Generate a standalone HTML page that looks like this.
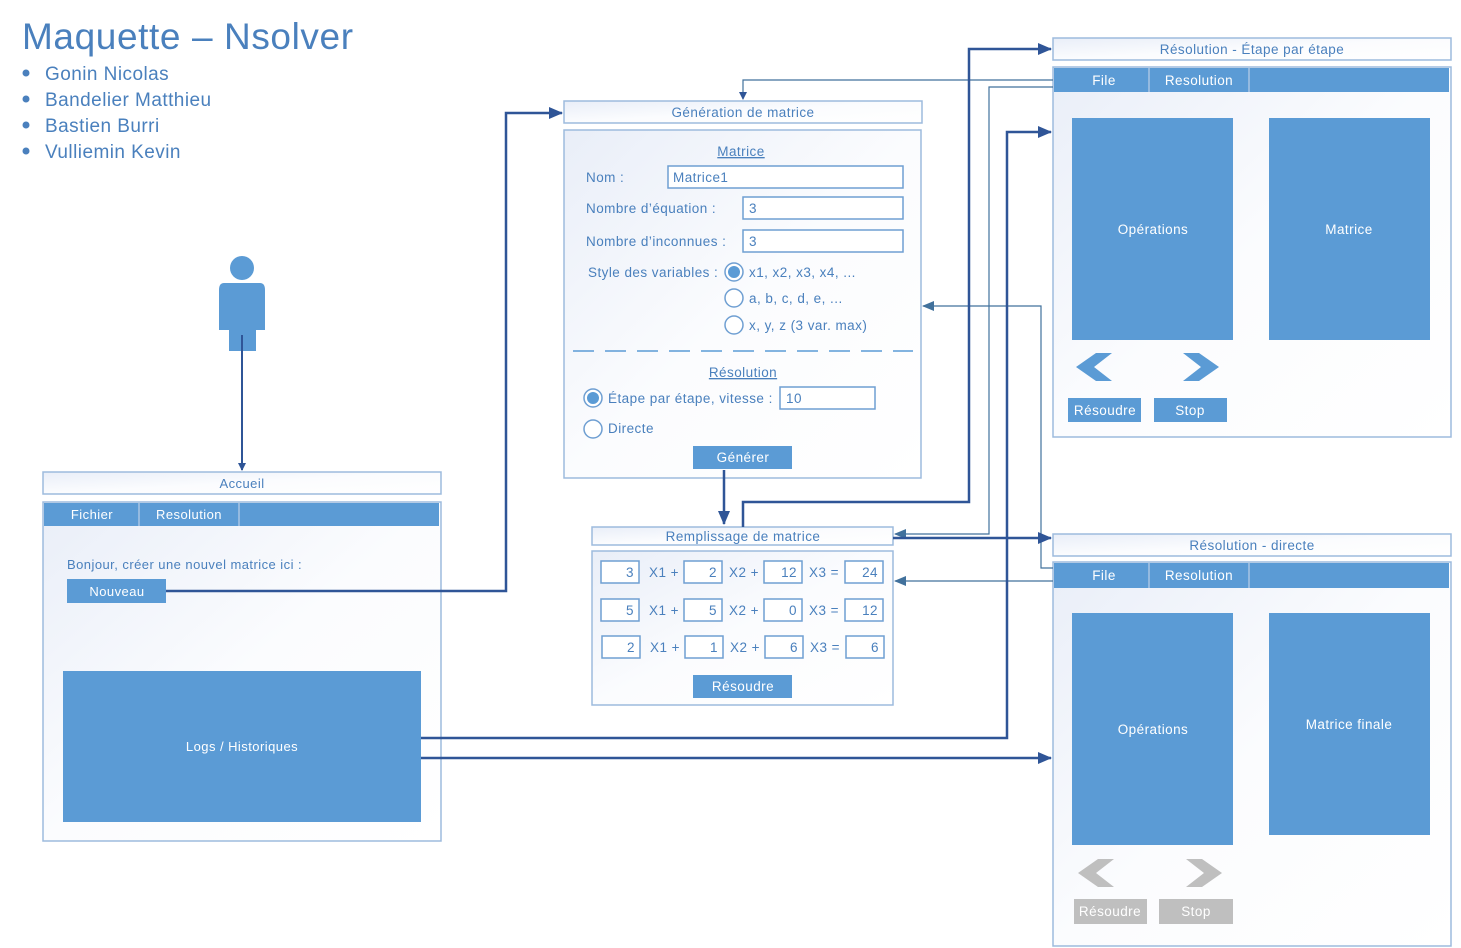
<!DOCTYPE html>
<html><head><meta charset="utf-8"><style>
body{margin:0;background:#fff}
svg{display:block;font-family:"Liberation Sans",sans-serif}
svg text{letter-spacing:0.45px}
</style></head><body>
<svg width="1461" height="948" viewBox="0 0 1461 948" xmlns="http://www.w3.org/2000/svg">
<defs>
<linearGradient id="g" x1="0" y1="0" x2="1" y2="1"><stop offset="0" stop-color="#e9eef8"/><stop offset="0.5" stop-color="#fbfcfe"/><stop offset="1" stop-color="#ffffff"/></linearGradient>
<marker id="a" markerWidth="8" markerHeight="8" refX="7" refY="4" orient="auto" markerUnits="userSpaceOnUse"><path d="M0,0 L8,4 L0,8 z" fill="#2f5597"/></marker>
<marker id="b" markerWidth="14" markerHeight="12" refX="13" refY="6" orient="auto" markerUnits="userSpaceOnUse"><path d="M0,0 L14,6 L0,12 z" fill="#2f5597"/></marker>
<marker id="t" markerWidth="12" markerHeight="10" refX="11" refY="5" orient="auto" markerUnits="userSpaceOnUse"><path d="M0,0 L12,5 L0,10 z" fill="#41719c"/></marker>
</defs>

<!-- title -->
<text x="22" y="49" font-size="37" fill="#4a80bd" style="letter-spacing:0.6px">Maquette – Nsolver</text>
<g fill="#4a80bd" font-size="19" style="letter-spacing:0.8px">
<circle cx="26" cy="73" r="3.5"/><text x="45" y="80">Gonin Nicolas</text>
<circle cx="26" cy="99" r="3.5"/><text x="45" y="106">Bandelier Matthieu</text>
<circle cx="26" cy="125" r="3.5"/><text x="45" y="132">Bastien Burri</text>
<circle cx="26" cy="151" r="3.5"/><text x="45" y="158">Vulliemin Kevin</text>
</g>

<!-- person -->
<g fill="#5b9bd5">
<circle cx="242" cy="268" r="12"/>
<path d="M224,283 H260 Q265,283 265,290 V330 H256 V351 H229 V330 H219 V290 Q219,283 224,283 z"/>
</g>

<!-- Accueil -->
<g stroke="#9dbbdd" stroke-width="1.5">
<rect x="43" y="472" width="398" height="22" fill="url(#g)"/>
<rect x="43" y="502" width="398" height="339" fill="url(#g)"/>
</g>
<rect x="44" y="503" width="395" height="23" fill="#5b9bd5"/>
<line x1="139" y1="503" x2="139" y2="526" stroke="#a9c4e4" stroke-width="1.5"/>
<line x1="239" y1="503" x2="239" y2="526" stroke="#a9c4e4" stroke-width="1.5"/>
<text x="242" y="488" font-size="13" fill="#4a80bd" text-anchor="middle">Accueil</text>
<g font-size="13" fill="#fff" text-anchor="middle"><text x="92" y="519">Fichier</text><text x="189" y="519">Resolution</text></g>
<text x="67" y="569" font-size="13" fill="#4a80bd">Bonjour, créer une nouvel matrice ici :</text>
<rect x="67" y="579" width="99" height="24" fill="#5b9bd5"/>
<text x="117" y="596" font-size="13" fill="#fff" text-anchor="middle">Nouveau</text>
<rect x="63" y="671" width="358" height="151" fill="#5b9bd5"/>
<text x="242" y="751" font-size="13" fill="#fff" text-anchor="middle">Logs / Historiques</text>

<!-- Génération -->
<g stroke="#9dbbdd" stroke-width="1.5">
<rect x="564" y="101" width="358" height="22" fill="url(#g)"/>
<rect x="564" y="130" width="357" height="348" fill="url(#g)"/>
</g>
<text x="743" y="117" font-size="13.5" fill="#4a80bd" text-anchor="middle">Génération de matrice</text>
<g font-size="13.5" fill="#4a80bd">
<text x="741" y="156" text-anchor="middle" text-decoration="underline">Matrice</text>
<text x="586" y="182">Nom :</text>
<text x="586" y="213">Nombre d’équation :</text>
<text x="586" y="246">Nombre d’inconnues :</text>
<text x="588" y="277">Style des variables :</text>
<text x="749" y="277">x1, x2, x3, x4, ...</text>
<text x="749" y="303">a, b, c, d, e, ...</text>
<text x="749" y="330">x, y, z (3 var. max)</text>
<text x="743" y="377" text-anchor="middle" text-decoration="underline">Résolution</text>
<text x="608" y="403">Étape par étape, vitesse :</text>
<text x="608" y="433">Directe</text>
</g>
<g stroke="#6f9fd2" stroke-width="1.5" fill="#fff">
<rect x="668" y="166" width="235" height="22"/>
<rect x="743" y="197" width="160" height="22"/>
<rect x="743" y="230" width="160" height="22"/>
<rect x="780" y="387" width="95" height="22"/>
<circle cx="734" cy="272" r="9"/><circle cx="734" cy="298" r="9"/><circle cx="734" cy="325" r="9"/>
<circle cx="593" cy="398" r="9"/><circle cx="593" cy="429" r="9"/>
</g>
<circle cx="734" cy="272" r="6" fill="#5b9bd5"/><circle cx="593" cy="398" r="6" fill="#5b9bd5"/>
<g font-size="13.5" fill="#4a80bd">
<text x="673" y="182">Matrice1</text><text x="749" y="213">3</text><text x="749" y="246">3</text><text x="786" y="403">10</text>
</g>
<line x1="573" y1="351" x2="913" y2="351" stroke="#5b9bd5" stroke-width="1.5" stroke-dasharray="21,11"/>
<rect x="693" y="446" width="99" height="23" fill="#5b9bd5"/>
<text x="743" y="462" font-size="13.5" fill="#fff" text-anchor="middle">Générer</text>

<!-- Remplissage -->
<g stroke="#9dbbdd" stroke-width="1.5">
<rect x="592" y="527" width="301" height="18" fill="url(#g)"/>
<rect x="592" y="551" width="301" height="154" fill="url(#g)"/>
</g>
<text x="743" y="541" font-size="13.5" fill="#4a80bd" text-anchor="middle">Remplissage de matrice</text>
<g stroke="#6f9fd2" stroke-width="1.5" fill="#fff">
<rect x="601" y="561" width="38" height="22"/><rect x="684" y="561" width="38" height="22"/><rect x="764" y="561" width="38" height="22"/><rect x="845" y="561" width="38" height="22"/>
<rect x="601" y="599" width="38" height="22"/><rect x="684" y="599" width="38" height="22"/><rect x="764" y="599" width="38" height="22"/><rect x="845" y="599" width="38" height="22"/>
<rect x="602" y="636" width="38" height="22"/><rect x="685" y="636" width="38" height="22"/><rect x="765" y="636" width="38" height="22"/><rect x="846" y="636" width="38" height="22"/>
</g>
<g font-size="13.5" fill="#4a80bd">
<g text-anchor="end">
<text x="634" y="577">3</text><text x="717" y="577">2</text><text x="797" y="577">12</text><text x="878" y="577">24</text>
<text x="634" y="615">5</text><text x="717" y="615">5</text><text x="797" y="615">0</text><text x="878" y="615">12</text>
<text x="635" y="652">2</text><text x="718" y="652">1</text><text x="798" y="652">6</text><text x="879" y="652">6</text>
</g>
<text x="649" y="577">X1 +</text><text x="729" y="577">X2 +</text><text x="809" y="577">X3 =</text>
<text x="649" y="615">X1 +</text><text x="729" y="615">X2 +</text><text x="809" y="615">X3 =</text>
<text x="650" y="652">X1 +</text><text x="730" y="652">X2 +</text><text x="810" y="652">X3 =</text>
</g>
<rect x="693" y="675" width="99" height="23" fill="#5b9bd5"/>
<text x="743" y="691" font-size="13.5" fill="#fff" text-anchor="middle">Résoudre</text>

<!-- Step window -->
<g stroke="#9dbbdd" stroke-width="1.5">
<rect x="1053" y="38" width="398" height="22" fill="url(#g)"/>
<rect x="1053" y="67" width="398" height="370" fill="url(#g)"/>
</g>
<rect x="1054" y="68" width="395" height="24" fill="#5b9bd5"/>
<line x1="1149" y1="68" x2="1149" y2="92" stroke="#a9c4e4" stroke-width="1.5"/>
<line x1="1249" y1="68" x2="1249" y2="92" stroke="#a9c4e4" stroke-width="1.5"/>
<text x="1252" y="54" font-size="13.5" fill="#4a80bd" text-anchor="middle">Résolution - Étape par étape</text>
<g font-size="13.5" fill="#fff" text-anchor="middle"><text x="1104" y="85">File</text><text x="1199" y="85">Resolution</text></g>
<rect x="1072" y="118" width="161" height="222" fill="#5b9bd5"/>
<rect x="1269" y="118" width="161" height="222" fill="#5b9bd5"/>
<g font-size="13.5" fill="#fff" text-anchor="middle"><text x="1153" y="234">Opérations</text><text x="1349" y="234">Matrice</text></g>
<g fill="#5b9bd5">
<polygon points="1076,367 1096,353 1112,353 1094,367 1112,381 1096,381"/>
<polygon points="1219,367 1199,353 1183,353 1201,367 1183,381 1199,381"/>
<rect x="1068" y="398" width="73" height="24"/><rect x="1154" y="398" width="73" height="24"/>
</g>
<g font-size="13.5" fill="#fff" text-anchor="middle"><text x="1105" y="415">Résoudre</text><text x="1190" y="415">Stop</text></g>

<!-- Direct window -->
<g stroke="#9dbbdd" stroke-width="1.5">
<rect x="1053" y="534" width="398" height="22" fill="url(#g)"/>
<rect x="1053" y="562" width="398" height="384" fill="url(#g)"/>
</g>
<rect x="1054" y="563" width="395" height="25" fill="#5b9bd5"/>
<line x1="1149" y1="563" x2="1149" y2="588" stroke="#a9c4e4" stroke-width="1.5"/>
<line x1="1249" y1="563" x2="1249" y2="588" stroke="#a9c4e4" stroke-width="1.5"/>
<text x="1252" y="550" font-size="13.5" fill="#4a80bd" text-anchor="middle">Résolution - directe</text>
<g font-size="13.5" fill="#fff" text-anchor="middle"><text x="1104" y="580">File</text><text x="1199" y="580">Resolution</text></g>
<rect x="1072" y="613" width="161" height="232" fill="#5b9bd5"/>
<rect x="1269" y="613" width="161" height="222" fill="#5b9bd5"/>
<g font-size="13.5" fill="#fff" text-anchor="middle"><text x="1153" y="734">Opérations</text><text x="1349" y="729">Matrice finale</text></g>
<g fill="#bfbfbf">
<polygon points="1078,873 1098,859 1114,859 1096,873 1114,887 1098,887"/>
<polygon points="1222,873 1202,859 1186,859 1204,873 1186,887 1202,887"/>
<rect x="1074" y="899" width="73" height="25"/><rect x="1159" y="899" width="74" height="25"/>
</g>
<g font-size="13.5" fill="#fff" text-anchor="middle"><text x="1110" y="916">Résoudre</text><text x="1196" y="916">Stop</text></g>

<!-- thin connectors -->
<g stroke="#41719c" stroke-width="1.2" fill="none">
<path d="M1053,80 H743 V99" marker-end="url(#a)"/>
<path d="M1053,87 H989 V534 H895" marker-end="url(#t)"/>
<path d="M1053,568 H1041 V306 H923" marker-end="url(#t)"/>
<path d="M1053,581 H895" marker-end="url(#t)"/>
</g>
<!-- thick connectors -->
<g stroke="#2f5597" stroke-width="2.5" fill="none">
<path d="M242,335 V470" stroke-width="2" marker-end="url(#a)"/>
<path d="M166,591 H506 V113 H562" marker-end="url(#b)"/>
<path d="M724,470 V524" marker-end="url(#b)"/>
<path d="M743,527 V502 H969 V49 H1051" marker-end="url(#b)"/>
<path d="M893,538 H1051" marker-end="url(#b)"/>
<path d="M421,738 H1007 V132 H1051" marker-end="url(#b)"/>
<path d="M421,758 H1051" marker-end="url(#b)"/>
</g>
</svg>
</body></html>
